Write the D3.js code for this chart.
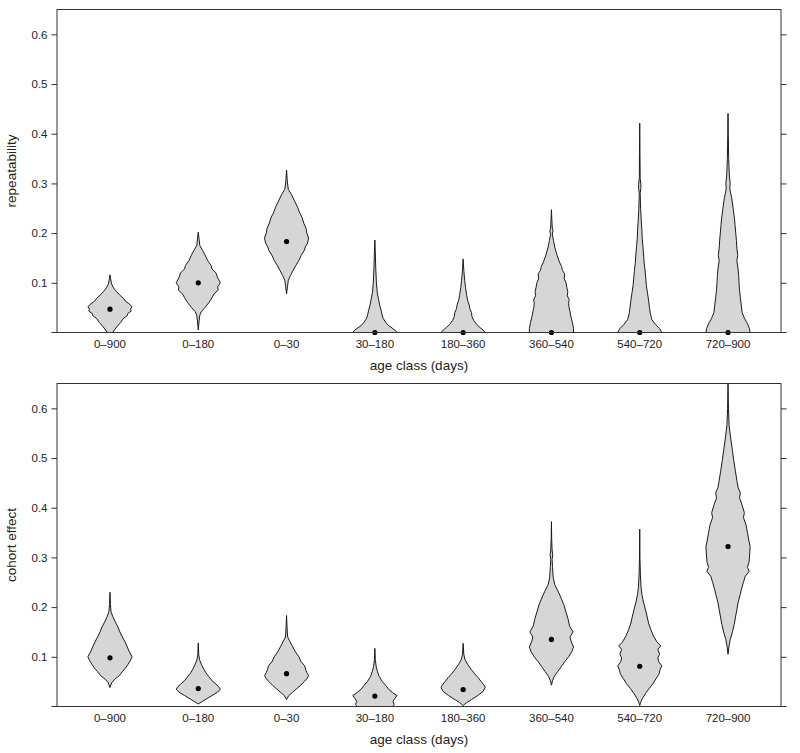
<!DOCTYPE html>
<html>
<head>
<meta charset="utf-8">
<style>
  body { margin: 0; background: #fff; }
  svg text { font-family: "Liberation Sans", Arial, sans-serif; fill: #222; }
</style>
</head>
<body>
<div id="viz"></div>
<script src="https://d3js.org/d3.v7.min.js"></script>
<script>

  // categories and tick values
  const categories = ["0–900", "0–180", "0–30", "30–180", "180–360", "360–540", "540–720", "720–900"];
  const yTicks = [0.1, 0.2, 0.3, 0.4, 0.5, 0.6];

  // posterior modes (dots)
  const repeatabilityMode = [0.047, 0.100, 0.183, 0, 0, 0, 0, 0];
  const cohortMode = [0.098, 0.036, 0.066, 0.021, 0.034, 0.135, 0.081, 0.322];

  // violin outlines: [value, relative half width]
  const repeatabilityDensity = [
    [[0.116,0],[0.108,0.03],[0.098,0.07],[0.09,0.16],[0.082,0.3],[0.075,0.45],[0.068,0.62],[0.063,0.7],[0.058,0.86],[0.052,1.0],[0.047,0.93],[0.043,0.96],[0.038,0.8],[0.034,0.78],[0.028,0.6],[0.02,0.48],[0.012,0.32],[0.005,0.2],[0,0.12]],
    [[0.202,0],[0.19,0.03],[0.175,0.07],[0.165,0.2],[0.155,0.32],[0.145,0.42],[0.135,0.58],[0.128,0.62],[0.12,0.8],[0.11,0.88],[0.1,1.0],[0.092,0.88],[0.085,0.9],[0.078,0.72],[0.07,0.62],[0.06,0.48],[0.05,0.3],[0.042,0.14],[0.035,0.07],[0.025,0.04],[0.005,0]],
    [[0.327,0],[0.305,0.03],[0.288,0.08],[0.278,0.22],[0.265,0.36],[0.252,0.5],[0.24,0.6],[0.232,0.7],[0.22,0.78],[0.21,0.88],[0.2,0.92],[0.19,1.0],[0.18,0.95],[0.172,0.85],[0.165,0.8],[0.155,0.66],[0.145,0.56],[0.135,0.42],[0.125,0.3],[0.115,0.18],[0.105,0.08],[0.092,0.04],[0.078,0]],
    [[0.186,0],[0.16,0.02],[0.13,0.04],[0.1,0.07],[0.08,0.11],[0.066,0.17],[0.055,0.22],[0.045,0.28],[0.035,0.33],[0.028,0.38],[0.02,0.5],[0.014,0.62],[0.009,0.78],[0.004,0.93],[0,1.0]],
    [[0.148,0],[0.125,0.03],[0.105,0.07],[0.09,0.11],[0.075,0.16],[0.065,0.2],[0.055,0.28],[0.048,0.3],[0.04,0.38],[0.032,0.4],[0.024,0.48],[0.016,0.62],[0.01,0.76],[0.005,0.9],[0,1.0]],
    [[0.247,0],[0.225,0.02],[0.21,0.04],[0.205,0.07],[0.198,0.04],[0.185,0.09],[0.17,0.16],[0.155,0.26],[0.142,0.36],[0.133,0.46],[0.125,0.5],[0.118,0.6],[0.108,0.58],[0.1,0.66],[0.09,0.7],[0.082,0.74],[0.074,0.72],[0.066,0.8],[0.058,0.78],[0.05,0.8],[0.042,0.84],[0.032,0.88],[0.02,0.95],[0.008,1.0],[0,1.0]],
    [[0.421,0],[0.36,0.01],[0.31,0.02],[0.298,0.05],[0.29,0.05],[0.28,0.02],[0.25,0.04],[0.225,0.07],[0.205,0.1],[0.19,0.11],[0.175,0.14],[0.16,0.17],[0.14,0.2],[0.125,0.24],[0.11,0.27],[0.095,0.3],[0.08,0.35],[0.065,0.4],[0.05,0.44],[0.038,0.48],[0.026,0.55],[0.016,0.72],[0.008,0.9],[0,1.0]],
    [[0.441,0],[0.4,0.01],[0.35,0.03],[0.315,0.06],[0.3,0.1],[0.29,0.08],[0.28,0.12],[0.27,0.17],[0.25,0.23],[0.23,0.29],[0.215,0.32],[0.2,0.35],[0.185,0.38],[0.17,0.4],[0.155,0.44],[0.145,0.4],[0.13,0.45],[0.115,0.48],[0.1,0.5],[0.085,0.52],[0.07,0.56],[0.055,0.6],[0.04,0.64],[0.028,0.75],[0.018,0.88],[0.008,0.97],[0,1.0]]
  ];

  const cohortDensity = [
    [[0.23,0],[0.205,0.02],[0.19,0.05],[0.182,0.12],[0.172,0.22],[0.16,0.36],[0.15,0.45],[0.14,0.56],[0.13,0.68],[0.12,0.78],[0.11,0.88],[0.1,1.0],[0.092,0.92],[0.085,0.82],[0.077,0.7],[0.07,0.56],[0.062,0.42],[0.055,0.22],[0.048,0.08],[0.038,0]],
    [[0.128,0],[0.105,0.02],[0.094,0.06],[0.085,0.14],[0.075,0.25],[0.068,0.34],[0.06,0.48],[0.052,0.62],[0.045,0.8],[0.04,0.92],[0.035,1.0],[0.029,0.88],[0.022,0.62],[0.015,0.36],[0.01,0.18],[0.005,0]],
    [[0.183,0],[0.16,0.02],[0.14,0.05],[0.132,0.14],[0.12,0.28],[0.11,0.4],[0.1,0.56],[0.09,0.66],[0.082,0.82],[0.075,0.86],[0.068,0.92],[0.062,1.0],[0.056,0.92],[0.05,0.8],[0.042,0.62],[0.035,0.44],[0.028,0.26],[0.022,0.1],[0.014,0]],
    [[0.117,0],[0.095,0.02],[0.08,0.06],[0.07,0.12],[0.06,0.2],[0.05,0.34],[0.042,0.5],[0.035,0.62],[0.028,0.8],[0.022,1.0],[0.016,0.9],[0.01,0.82],[0.004,0.88],[0,0.8]],
    [[0.127,0],[0.105,0.03],[0.095,0.08],[0.085,0.2],[0.075,0.36],[0.066,0.52],[0.058,0.68],[0.05,0.82],[0.043,0.95],[0.038,1.0],[0.03,0.9],[0.022,0.66],[0.014,0.38],[0.008,0.16],[0.002,0]],
    [[0.372,0],[0.34,0.01],[0.315,0.03],[0.305,0.06],[0.296,0.03],[0.28,0.05],[0.26,0.08],[0.245,0.15],[0.232,0.3],[0.218,0.44],[0.205,0.56],[0.19,0.66],[0.175,0.76],[0.162,0.82],[0.15,0.98],[0.14,0.84],[0.13,0.9],[0.12,1.0],[0.11,0.92],[0.1,0.78],[0.09,0.6],[0.08,0.44],[0.07,0.28],[0.06,0.12],[0.052,0.05],[0.043,0]],
    [[0.357,0],[0.3,0.01],[0.265,0.03],[0.24,0.06],[0.225,0.1],[0.21,0.17],[0.195,0.26],[0.18,0.34],[0.168,0.4],[0.155,0.5],[0.142,0.62],[0.13,0.78],[0.122,0.95],[0.115,0.82],[0.105,0.9],[0.098,0.82],[0.09,0.86],[0.082,1.0],[0.074,0.92],[0.066,0.88],[0.056,0.74],[0.046,0.6],[0.036,0.42],[0.026,0.26],[0.016,0.12],[0.008,0.04],[0.002,0]],
    [[0.65,0],[0.6,0.02],[0.565,0.05],[0.54,0.12],[0.515,0.2],[0.495,0.26],[0.475,0.33],[0.455,0.4],[0.44,0.46],[0.43,0.56],[0.42,0.52],[0.405,0.64],[0.39,0.74],[0.38,0.7],[0.365,0.82],[0.35,0.88],[0.335,0.94],[0.322,1.0],[0.305,0.98],[0.29,0.95],[0.28,0.88],[0.272,0.96],[0.262,0.78],[0.25,0.7],[0.238,0.62],[0.225,0.55],[0.21,0.46],[0.195,0.4],[0.18,0.34],[0.165,0.28],[0.15,0.2],[0.135,0.1],[0.12,0.04],[0.105,0]]
  ];

  const width = 800,
        height = 753;

  const svg = d3.select("#viz").append("svg")
      .attr("width", width)
      .attr("height", height);

  const left = 57, right = 781;

  const x = d3.scalePoint()
      .domain(categories)
      .range([left, right])
      .padding(0.6);

  const halfWidth = d3.scaleLinear()
      .domain([0, 1])
      .range([0, x.step() * 0.25]);

  const panels = [
    {top: 9.5, bottom: 332.5, title: "repeatability", mode: repeatabilityMode, density: repeatabilityDensity},
    {top: 383.5, bottom: 706.5, title: "cohort effect", mode: cohortMode, density: cohortDensity}
  ];

  panels.forEach((p, i) => {
    const y = d3.scaleLinear()
        .domain([0, 0.65])
        .range([p.bottom, p.top]);

    const g = svg.append("g");

    g.append("clipPath")
        .attr("id", "clip" + i)
      .append("rect")
        .attr("x", left)
        .attr("y", p.top)
        .attr("width", right - left)
        .attr("height", p.bottom - p.top);

    // violins
    const area = d3.area()
        .y(d => y(d[0]));

    g.append("g")
        .attr("clip-path", "url(#clip" + i + ")")
      .selectAll("path")
      .data(p.density)
      .join("path")
        .attr("d", (d, j) => {
          const cx = x(categories[j]);
          return area.x0(e => cx - halfWidth(e[1])).x1(e => cx + halfWidth(e[1]))(d);
        })
        .attr("fill", "#d6d6d6")
        .attr("stroke", "#1a1a1a")
        .attr("stroke-width", 1)
        .attr("stroke-linejoin", "round");

    g.selectAll("circle")
      .data(p.mode)
      .join("circle")
        .attr("cx", (d, j) => x(categories[j]))
        .attr("cy", d => y(d))
        .attr("r", 2.6)
        .attr("fill", "#000");

    // box
    g.append("rect")
        .attr("x", left)
        .attr("y", p.top)
        .attr("width", right - left)
        .attr("height", p.bottom - p.top)
        .attr("fill", "none")
        .attr("stroke", "#333")
        .attr("stroke-width", 1);

    // zero ticks along the bottom line
    g.append("line")
        .attr("x1", left - 5.5).attr("x2", right + 5.5)
        .attr("y1", p.bottom).attr("y2", p.bottom)
        .attr("stroke", "#333");

    // y axes
    const yAxis = g.append("g")
        .attr("transform", `translate(${left},0)`)
        .call(d3.axisLeft(y).tickValues(yTicks).tickSize(5.5).tickPadding(4).tickFormat(d3.format(".1f")));
    yAxis.select(".domain").remove();
    yAxis.selectAll("line").attr("stroke", "#333");
    yAxis.selectAll("text").attr("font-size", 11.5).attr("fill", "#222")
        .attr("font-family", "'Liberation Sans', Arial, sans-serif");

    const yAxisR = g.append("g")
        .attr("transform", `translate(${right},0)`)
        .call(d3.axisRight(y).tickValues(yTicks).tickSize(5.5).tickFormat(""));
    yAxisR.select(".domain").remove();
    yAxisR.selectAll("line").attr("stroke", "#333");

    // category labels
    g.selectAll(".cat")
      .data(categories)
      .join("text")
        .attr("class", "cat")
        .attr("x", d => x(d))
        .attr("y", p.bottom + 15)
        .attr("text-anchor", "middle")
        .attr("font-size", 11.5)
        .text(d => d);

    g.append("text")
        .attr("x", (left + right) / 2)
        .attr("y", p.bottom + 37.5)
        .attr("text-anchor", "middle")
        .attr("font-size", 13.5)
        .text("age class (days)");

    g.append("text")
        .attr("transform", `translate(16,${(p.top + p.bottom) / 2}) rotate(-90)`)
        .attr("text-anchor", "middle")
        .attr("font-size", 13.5)
        .text(p.title);
  });

</script>
</body>
</html>
